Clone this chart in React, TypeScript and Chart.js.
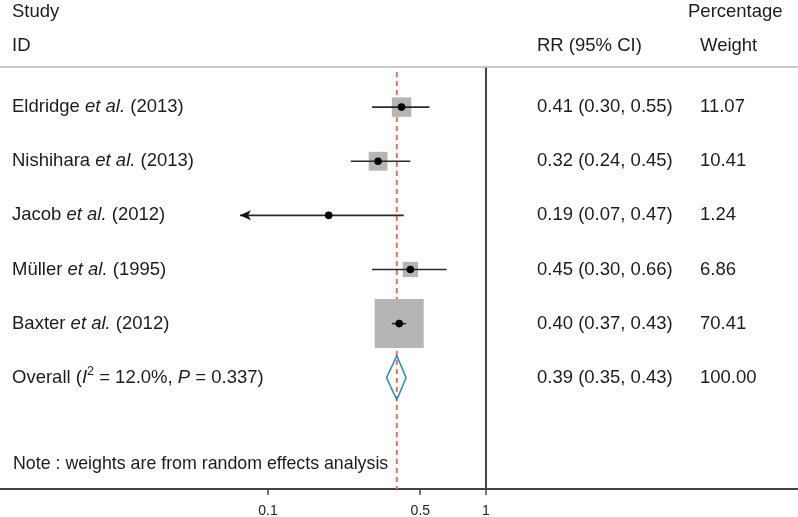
import React, { useEffect, useRef } from 'react';
import { Chart, registerables } from 'chart.js';

Chart.register(...registerables);

// ---- Data ----
const studyNames = ['Eldridge', 'Nishihara', 'Jacob', 'Müller', 'Baxter'];
const studyYears = ['2013', '2013', '2012', '1995', '2012'];
const rr = [0.41, 0.32, 0.19, 0.45, 0.40];
const ciLow = [0.30, 0.24, 0.07, 0.30, 0.37];
const ciHigh = [0.55, 0.45, 0.42, 0.66, 0.43]; // as drawn in the plot
const ciText = ['0.41 (0.30, 0.55)', '0.32 (0.24, 0.45)', '0.19 (0.07, 0.47)', '0.45 (0.30, 0.66)', '0.40 (0.37, 0.43)'];
const weights = [11.07, 10.41, 1.24, 6.86, 70.41];
const overallRR = [0.39];
const overallLow = [0.35];
const overallHigh = [0.43];
const overallText = ['0.39 (0.35, 0.43)'];
const overallWeight = ['100.00'];
const tickValues = [0.1, 0.5, 1];
const tickLabels = ['0.1', '0.5', '1'];
const plotLowLimit = 0.0744; // CIs below this are clipped with an arrow

const FONT = '"Liberation Sans", Arial, Helvetica, sans-serif';
const TEXT_SIZE = 18.5;
const TEXT_COLOR = '#1c1c1c';

type Seg = { t: string; italic?: boolean; sup?: boolean };

function drawSegs(ctx: CanvasRenderingContext2D, segs: Seg[], x: number, y: number, size = TEXT_SIZE) {
  let cx = x;
  for (const s of segs) {
    const sz = s.sup ? size * 0.68 : size;
    ctx.font = `${s.italic ? 'italic ' : ''}${sz}px ${FONT}`;
    const yy = s.sup ? y - size * 0.36 : y;
    ctx.fillText(s.t, cx, yy);
    cx += ctx.measureText(s.t).width;
  }
}

const forestPlugin = {
  id: 'forest',
  beforeDatasetsDraw(chart: any) {
    const { ctx, chartArea, scales } = chart;
    const x = scales.x.getPixelForValue(overallRR[0]);
    ctx.save();
    ctx.strokeStyle = '#e2716a';
    ctx.lineWidth = 2;
    ctx.setLineDash([5, 4]);
    ctx.beginPath();
    ctx.moveTo(x, chartArea.top + 5);
    ctx.lineTo(x, chartArea.bottom);
    ctx.stroke();
    ctx.restore();
  },
  afterDatasetsDraw(chart: any) {
    const { ctx, scales } = chart;
    const xs = scales.x;
    const ys = scales.y;
    ctx.save();
    // arrows for clipped CIs
    ciLow.forEach((lo, i) => {
      if (lo < plotLowLimit) {
        const px = xs.getPixelForValue(plotLowLimit);
        const py = ys.getPixelForValue(i);
        ctx.fillStyle = '#111';
        ctx.beginPath();
        ctx.moveTo(px, py);
        ctx.lineTo(px + 11, py - 5);
        ctx.lineTo(px + 8, py);
        ctx.lineTo(px + 11, py + 5);
        ctx.closePath();
        ctx.fill();
      }
    });
    // overall diamond
    const row = studyNames.length;
    const cy = ys.getPixelForValue(row);
    const xl = xs.getPixelForValue(overallLow[0]);
    const xm = xs.getPixelForValue(overallRR[0]);
    const xh = xs.getPixelForValue(overallHigh[0]);
    ctx.strokeStyle = '#3a8bab';
    ctx.lineWidth = 1.6;
    ctx.beginPath();
    ctx.moveTo(xl, cy);
    ctx.lineTo(xm, cy - 22);
    ctx.lineTo(xh, cy);
    ctx.lineTo(xm, cy + 22);
    ctx.closePath();
    ctx.stroke();
    ctx.restore();
  },
  afterDraw(chart: any) {
    const { ctx, chartArea, scales, width } = chart;
    const ys = scales.y;
    ctx.save();
    // header separator
    ctx.strokeStyle = '#b8b8b8';
    ctx.lineWidth = 1.5;
    ctx.beginPath();
    ctx.moveTo(0, chartArea.top);
    ctx.lineTo(width, chartArea.top);
    ctx.stroke();

    ctx.fillStyle = TEXT_COLOR;
    ctx.textBaseline = 'middle';
    ctx.textAlign = 'left';
    const h1 = chartArea.top - 55;
    const h2 = chartArea.top - 21.5;
    drawSegs(ctx, [{ t: 'Study' }], 12, h1);
    drawSegs(ctx, [{ t: 'ID' }], 12, h2);
    drawSegs(ctx, [{ t: 'RR (95% CI)' }], 537, h2);
    drawSegs(ctx, [{ t: 'Percentage' }], 688, h1);
    drawSegs(ctx, [{ t: 'Weight' }], 700, h2);

    studyNames.forEach((name, i) => {
      const y = ys.getPixelForValue(i);
      drawSegs(ctx, [{ t: name + ' ' }, { t: 'et al.', italic: true }, { t: ` (${studyYears[i]})` }], 12, y);
      drawSegs(ctx, [{ t: ciText[i] }], 537, y);
      drawSegs(ctx, [{ t: weights[i].toFixed(2) }], 700, y);
    });
    const oy = ys.getPixelForValue(studyNames.length);
    drawSegs(ctx, [
      { t: 'Overall (' }, { t: 'I', italic: true }, { t: '2', sup: true },
      { t: ' = 12.0%, ' }, { t: 'P', italic: true }, { t: ' = 0.337)' },
    ], 12, oy);
    drawSegs(ctx, [{ t: overallText[0] }], 537, oy);
    drawSegs(ctx, [{ t: overallWeight[0] }], 700, oy);

    const ny = ys.getPixelForValue(studyNames.length + 1.59);
    drawSegs(ctx, [{ t: 'Note : weights are from random effects analysis' }], 13, ny, 17.8);
    ctx.restore();
  },
};

export default function App() {
  const ref = useRef<HTMLCanvasElement>(null);
  useEffect(() => {
    const canvas = ref.current;
    if (!canvas) return;
    const boxSide = (w: number) => 49 * Math.sqrt(w / 70.41);
    const ciDatasets = studyNames.map((_, i) => ({
      type: 'line' as const,
      data: [
        { x: Math.max(ciLow[i], plotLowLimit), y: i },
        { x: ciHigh[i], y: i },
      ],
      borderColor: '#2a2a2a',
      borderWidth: 1.6,
      pointRadius: 0,
      fill: false,
      order: 2,
    }));
    const chart = new Chart(canvas, {
      type: 'scatter',
      data: {
        datasets: [
          {
            type: 'scatter',
            data: rr.map((v, i) => ({ x: v, y: i })),
            pointStyle: 'circle',
            pointRadius: 3.8,
            backgroundColor: '#000',
            borderWidth: 0,
            order: 1,
          } as any,
          ...ciDatasets,
          {
            type: 'scatter',
            data: rr.map((v, i) => ({ x: v, y: i })),
            pointStyle: 'rect',
            pointRadius: (c: any) => boxSide(weights[c.dataIndex]) / Math.SQRT2,
            backgroundColor: '#b5b5b5',
            borderWidth: 0,
            order: 3,
          } as any,
        ],
      },
      options: {
        responsive: false,
        animation: false,
        events: [],
        layout: { padding: { top: 67, left: 0, right: 0, bottom: 0 }, autoPadding: false },
        plugins: { legend: { display: false }, tooltip: { enabled: false } },
        scales: {
          x: {
            type: 'logarithmic',
            min: 0.0059,
            max: 27,
            afterBuildTicks: (scale: any) => {
              scale.ticks = tickValues.map((v) => ({ value: v }));
            },
            afterFit: (scale: any) => {
              scale.paddingLeft = 0;
              scale.paddingRight = 0;
              scale.height = 28;
            },
            ticks: {
              callback: (v: any) => {
                const idx = tickValues.indexOf(Number(v));
                return idx >= 0 ? tickLabels[idx] : '';
              },
              autoSkip: false,
              maxRotation: 0,
              padding: 8,
              color: '#222',
              font: { family: FONT, size: 14 },
            },
            grid: {
              color: (c: any) => (c.tick && c.tick.value === 1 ? '#444' : 'rgba(0,0,0,0)'),
              lineWidth: 2,
              drawTicks: true,
              tickLength: 6,
              tickColor: '#444',
              tickWidth: 1.5,
            },
            border: { display: true, color: '#444', width: 2 },
          },
          y: {
            type: 'linear',
            display: false,
            reverse: true,
            min: -0.7407,
            max: 7.0556,
          },
        },
      } as any,
      plugins: [forestPlugin],
    });
    return () => chart.destroy();
  }, []);
  return (
    <div style={{ position: 'fixed', left: 0, top: 0, width: 798, height: 517, background: '#fff' }}>
      <canvas ref={ref} width={798} height={517} style={{ display: 'block' }} />
    </div>
  );
}
